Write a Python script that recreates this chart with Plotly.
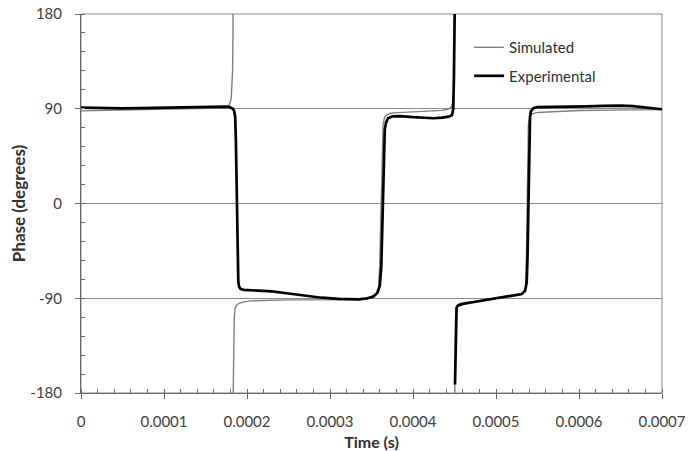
import plotly.graph_objects as go

# Simulated phase (time in seconds, phase in degrees); None marks the wrap at +/-180
sim_time = [0.0, 20e-6, 40e-6, 60e-6, 80e-6, 100e-6, 120e-6, 140e-6, 160e-6, 170e-6, 176e-6,
            179e-6, 181e-6, 182e-6, 182.6e-6, 183.0e-6, 183.2e-6, None,
            183.4e-6, 183.6e-6, 184e-6, 184.6e-6, 185.5e-6, 187e-6, 190e-6, 196e-6, 205e-6,
            220e-6, 250e-6, 280e-6, 300e-6, 320e-6, 335e-6, 345e-6, 352e-6, 356e-6, 358.5e-6,
            359.8e-6, 360.8e-6, 361.6e-6, 362.3e-6, 363e-6, 364e-6, 365.5e-6, 368e-6, 372e-6,
            380e-6, 400e-6, 420e-6, 435e-6, 442e-6, 446e-6, 448e-6, 449e-6, 449.6e-6, 449.9e-6,
            450.1e-6, None,
            450.3e-6, 450.5e-6, 450.8e-6, 451.3e-6, 452e-6, 453.5e-6, 456e-6, 462e-6, 475e-6,
            490e-6, 505e-6, 520e-6, 528e-6, 533e-6, 535.5e-6, 536.7e-6, 537.5e-6, 538.2e-6,
            539e-6, 540.5e-6, 543e-6, 550e-6, 570e-6, 600e-6, 640e-6, 700e-6]
sim_phase = [88.0, 88.3, 88.5, 88.6, 88.8, 89.0, 89.3, 89.6, 90.0, 90.6, 91.8,
             94, 100, 110, 125, 150, 180, None,
             -180, -150, -125, -110, -100, -97, -95, -93.5, -92.5,
             -92, -91.5, -91.5, -91.5, -91.5, -91.3, -90.5, -89, -86, -80,
             -60, -30, 0, 30, 60, 75, 81, 84, 85.5,
             86.3, 87, 87.8, 88.5, 89.5, 91.5, 96, 105, 125, 150,
             180, None,
             -180, -150, -125, -110, -102, -97, -95, -94, -93,
             -91.5, -90, -88.5, -87, -85, -80, -50, 0, 50,
             75, 82, 85, 86.5, 87.5, 88.3, 88.7, 89.2]

# Experimental phase
exp_time = [0.0, 10e-6, 30e-6, 50e-6, 70e-6, 90e-6, 110e-6, 130e-6, 150e-6, 165e-6, 175e-6,
            179e-6, 181e-6, 183e-6, 184.5e-6, 185.8e-6, 186.6e-6, 187.3e-6, 187.8e-6, 188.3e-6,
            188.8e-6, 189.5e-6, 190.5e-6, 192e-6, 196e-6, 210e-6, 230e-6, 250e-6, 270e-6,
            290e-6, 310e-6, 325e-6, 335e-6, 345e-6, 352e-6, 357e-6, 360e-6, 361.8e-6,
            362.8e-6, 363.6e-6, 364.4e-6, 365e-6, 366e-6, 367.5e-6, 370e-6, 375e-6, 385e-6,
            400e-6, 415e-6, 425e-6, 435e-6, 443e-6, 447e-6, 448.5e-6, 449.3e-6, 449.8e-6,
            450.2e-6, None,
            450.6e-6, 451e-6, 451.4e-6, 451.8e-6, 452.5e-6, 454e-6, 460e-6, 470e-6, 490e-6,
            510e-6, 523e-6, 531e-6, 535e-6, 537e-6, 538e-6, 538.8e-6, 539.5e-6, 540.2e-6,
            541e-6, 542e-6, 545e-6, 550e-6, 570e-6, 590e-6, 610e-6, 630e-6, 650e-6, 665e-6,
            680e-6, 690e-6, 700e-6]
exp_phase = [91.0, 90.8, 90.5, 90.3, 90.6, 91.0, 91.2, 91.3, 91.6, 92, 92,
             91.5, 90.5, 90, 88, 82, 60, 30, 0, -30,
             -60, -74, -79, -81, -82, -82.5, -83.5, -85.5, -87.5,
             -89.5, -90.5, -91.2, -91, -90, -88.5, -85, -78, -60,
             -30, 0, 30, 55, 70, 77, 81, 82.8, 83,
             82, 81, 81, 81.5, 82.5, 84, 90, 120, 150,
             180, None,
             -172, -150, -120, -104, -99, -97, -95.5, -94, -91.5,
             -89, -87.3, -86, -83, -75, -50, -10, 30, 65,
             82, 87.5, 90.5, 91.5, 92, 92.3, 92.3, 92.7, 93, 92.5,
             91.5, 90.5, 89.5]

x_ticks = [0, 0.0001, 0.0002, 0.0003, 0.0004, 0.0005, 0.0006, 0.0007]
x_tick_text = ["0", "0.0001", "0.0002", "0.0003", "0.0004", "0.0005", "0.0006", "0.0007"]
y_ticks = [-180, -90, 0, 90, 180]
y_tick_text = ["-180", "-90", "0", "90", "180"]

FONT = "Lato"

fig = go.Figure()
fig.add_trace(go.Scatter(x=sim_time, y=sim_phase, mode="lines", name="Simulated",
                         legendgroup="a",
                         line=dict(color="#7f7f7f", width=1.4)))
fig.add_trace(go.Scatter(x=exp_time, y=exp_phase, mode="lines", name="Experimental",
                         legendgroup="b",
                         line=dict(color="#000000", width=2.7)))

fig.add_shape(type="rect", xref="x domain", yref="y domain", x0=0, x1=1, y0=0, y1=1,
              line=dict(color="#8a8a8a", width=1), layer="below")

fig.update_layout(
    width=699, height=451,
    margin=dict(l=81, r=37, t=14, b=58),
    paper_bgcolor="white", plot_bgcolor="white",
    font=dict(family=FONT, size=15, color="#404040"),
    showlegend=True,
    legend=dict(x=0.668, y=0.955, xanchor="left", yanchor="top",
                bgcolor="rgba(0,0,0,0)", tracegroupgap=6,
                font=dict(family=FONT, size=15, color="#303030")),
    xaxis=dict(range=[0, 0.0007], tickvals=x_ticks, ticktext=x_tick_text,
               automargin=False,
               showgrid=False, zeroline=False,
               showline=True, linecolor="#6a6a6a", linewidth=1,
               ticks="outside", ticklen=5, tickcolor="#6a6a6a",
               ticklabelstandoff=10,
               tickfont=dict(size=15),
               minor=dict(dtick=0.00002, ticks="inside", ticklen=4, tickcolor="#6a6a6a",
                          showgrid=False),
               title=dict(text="<b>Time (s)</b>", font=dict(family=FONT, size=16, color="#303030"),
                          standoff=11)),
    yaxis=dict(range=[-180, 180], tickvals=y_ticks, ticktext=y_tick_text,
               automargin=False,
               showgrid=True, gridcolor="#8a8a8a", gridwidth=1,
               zeroline=False,
               showline=True, linecolor="#6a6a6a", linewidth=1,
               ticks="outside", ticklen=5, tickcolor="#6a6a6a",
               ticklabelstandoff=10,
               tickfont=dict(size=15),
               minor=dict(dtick=18, ticks="inside", ticklen=4, tickcolor="#6a6a6a",
                          showgrid=False),
               title=dict(text="<b>Phase (degrees)</b>", font=dict(family=FONT, size=17, color="#303030"),
                          standoff=0)),
)

fig.write_html("out.html")
